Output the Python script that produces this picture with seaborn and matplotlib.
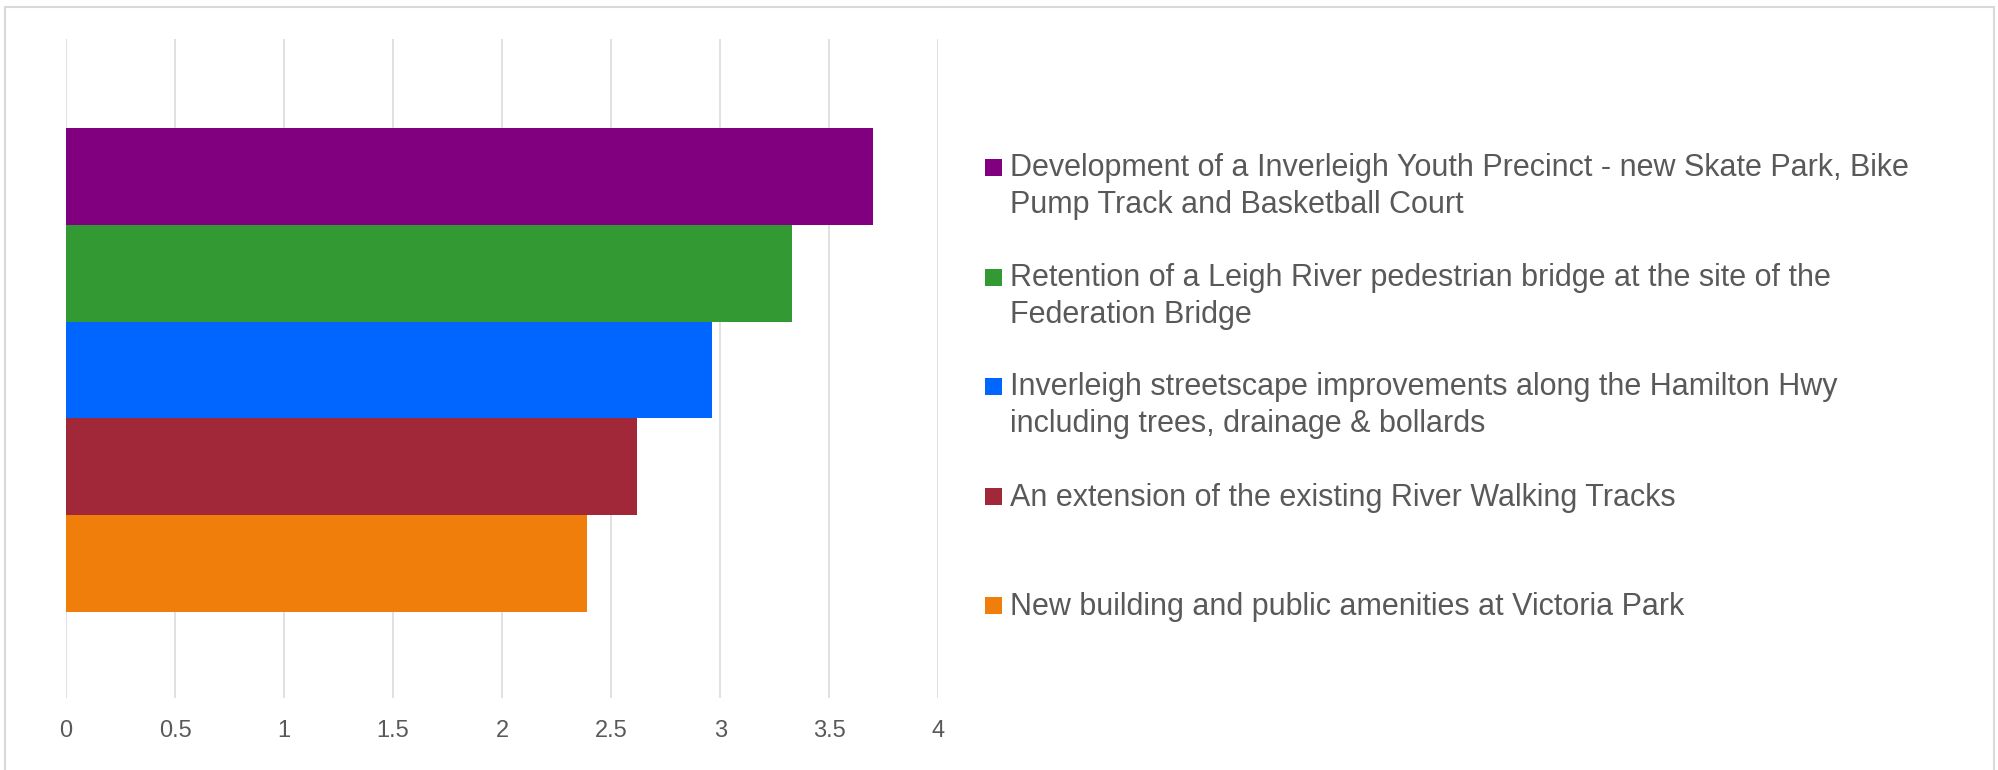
import matplotlib
matplotlib.use("Agg")
import matplotlib.pyplot as plt
from matplotlib.patches import Rectangle
import seaborn as sns

# Data
projects = [
    "Development of a Inverleigh Youth Precinct - new Skate Park, Bike Pump Track and Basketball Court",
    "Retention of a Leigh River pedestrian bridge at the site of the Federation Bridge",
    "Inverleigh streetscape improvements along the Hamilton Hwy including trees, drainage & bollards",
    "An extension of the existing River Walking Tracks",
    "New building and public amenities at Victoria Park",
]
legend_labels = [
    "Development of a Inverleigh Youth Precinct - new Skate Park, Bike\nPump Track and Basketball Court",
    "Retention of a Leigh River pedestrian bridge at the site of the\nFederation Bridge",
    "Inverleigh streetscape improvements along the Hamilton Hwy\nincluding trees, drainage & bollards",
    "An extension of the existing River Walking Tracks",
    "New building and public amenities at Victoria Park",
]
scores = [3.70, 3.33, 2.96, 2.62, 2.39]
bar_colors = ["#800080", "#339933", "#0066FF", "#A02838", "#EF7F0A"]
x_ticks = [0, 0.5, 1, 1.5, 2, 2.5, 3, 3.5, 4]
x_tick_labels = ["0", "0.5", "1", "1.5", "2", "2.5", "3", "3.5", "4"]

sns.set_style("white")
plt.rcParams["font.family"] = ["Liberation Sans", "DejaVu Sans"]

W, H = 1998, 770
fig = plt.figure(figsize=(W / 100, H / 100), dpi=100)
# axes box in pixels: left 66, right 938, top 39, bottom 698
ax = fig.add_axes([66 / W, 1 - 698 / H, (938.3 - 66) / W, (698 - 39.3) / H])

sns.barplot(x=scores, y=projects, hue=projects, palette=bar_colors, orient="h",
            width=1, saturation=1, legend=False, ax=ax, linewidth=0)

ax.set_xlim(0, 4)
ax.set_ylim(4.5 + 0.888, -0.5 - 0.916)
ax.set_xticks(x_ticks)
ax.set_xticklabels(x_tick_labels)
ax.set_yticks([])
ax.set_xlabel("")
ax.set_ylabel("")
ax.xaxis.grid(True, color="#d9d9d9", linewidth=1.1)
ax.set_axisbelow(True)
for s in ax.spines.values():
    s.set_visible(False)
ax.tick_params(axis="x", length=0, pad=16, labelsize=17, labelcolor="#595959")

# legend drawn to the right, entries evenly spaced by first line
line_gap = 36
for i, (lab, col) in enumerate(zip(legend_labels, bar_colors)):
    yc = 167.5 + i * 109.6
    fig.patches.append(Rectangle((985 / W, 1 - (yc + 8.5) / H), 17 / W, 17 / H,
                                 transform=fig.transFigure, facecolor=col,
                                 edgecolor="none"))
    n_lines = lab.count("\n") + 1
    base = yc + 9.5 + (n_lines - 1) * line_gap
    fig.text(1010 / W, 1 - base / H, lab, fontsize=22, color="#595959",
             va="baseline", ha="left", linespacing=1.30)

# light chart frame
fig.patches.append(Rectangle((4.5 / W, -0.01), (1994 - 4.5) / W, 1 - 6.5 / H + 0.01,
                             transform=fig.transFigure, facecolor="none",
                             edgecolor="#d9d9d9", linewidth=1.5))

fig.savefig("out.png", dpi=100)
